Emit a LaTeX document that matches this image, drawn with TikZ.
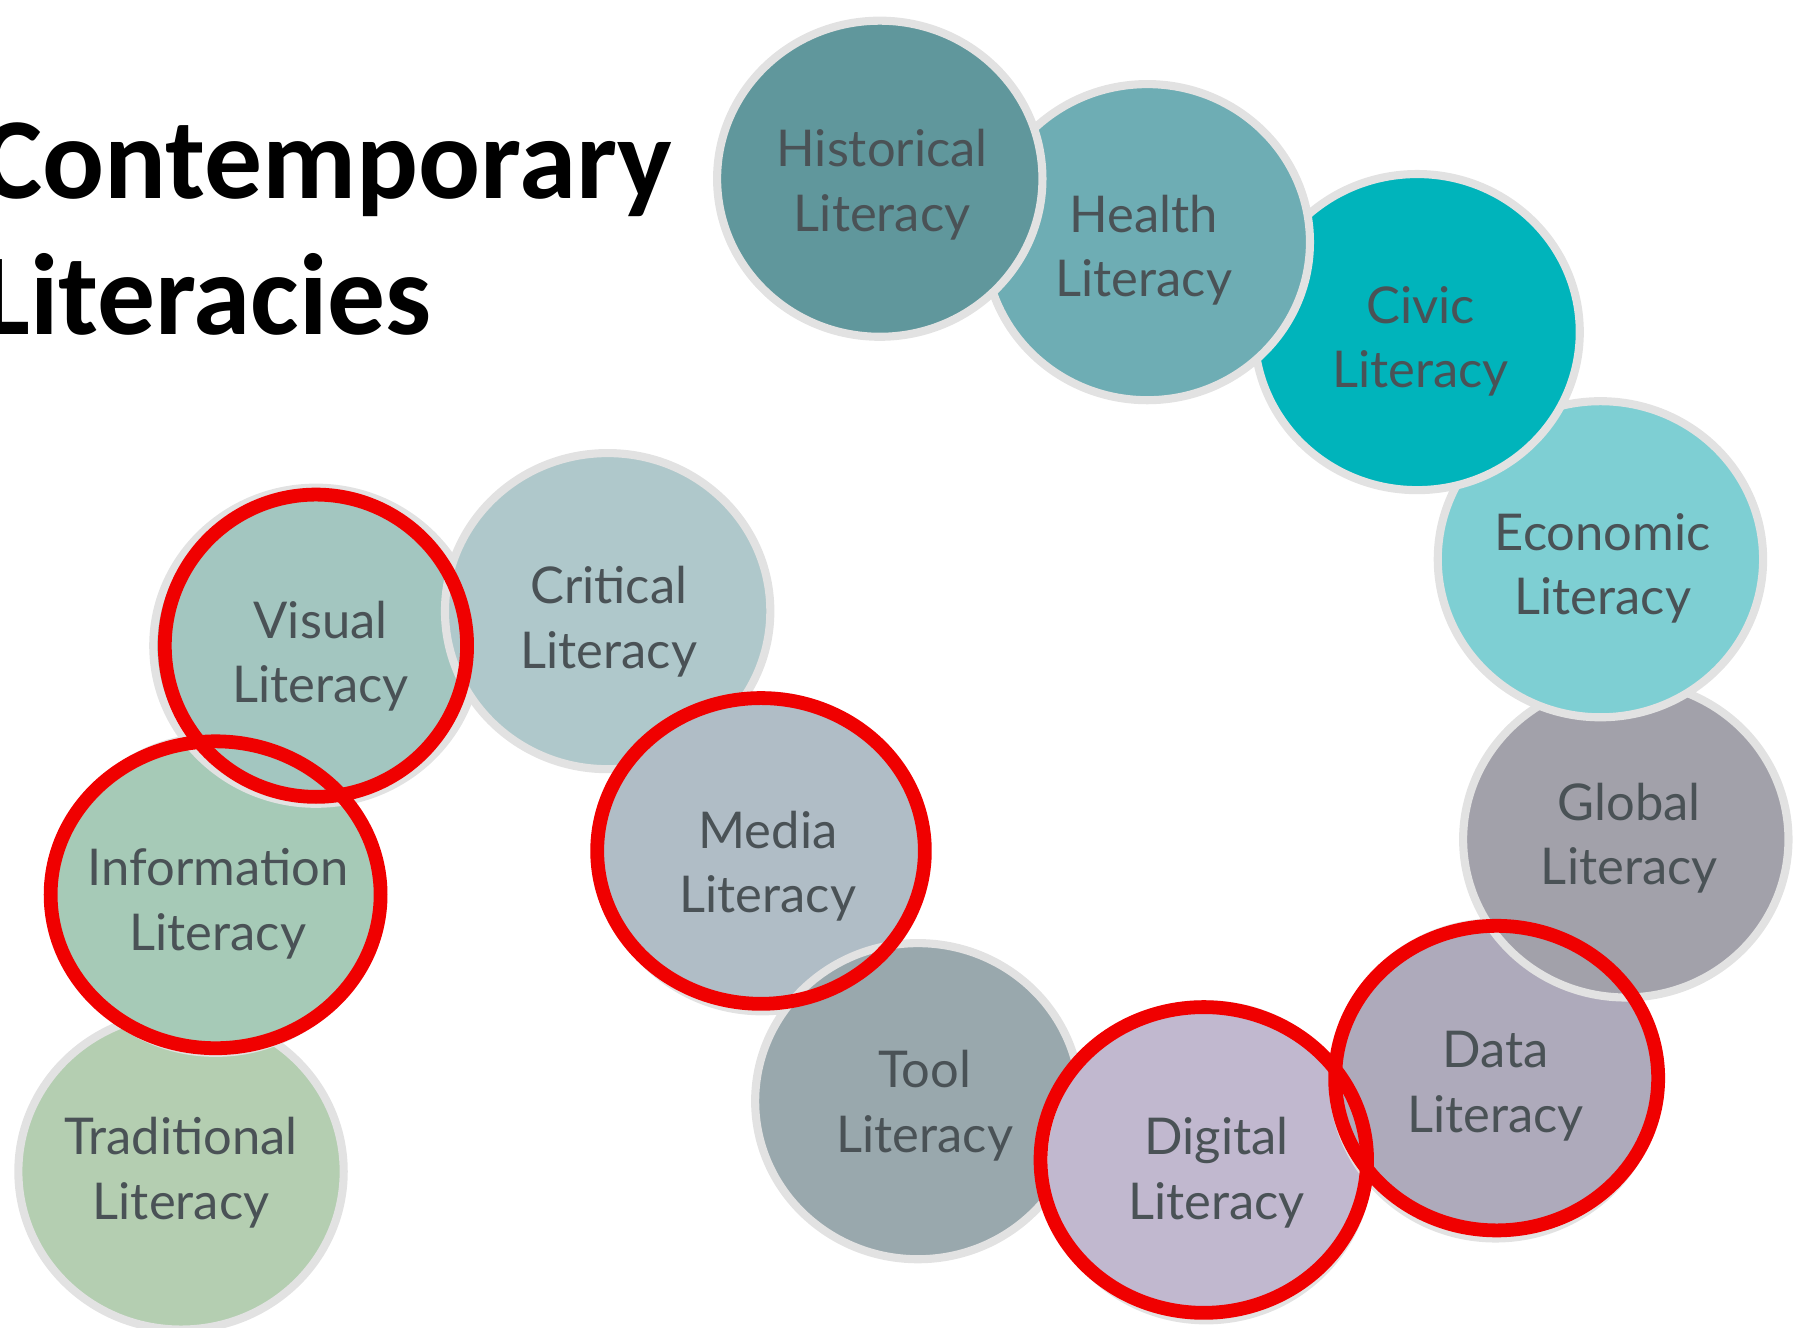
\documentclass[tikz,border=0pt]{standalone}
\usepackage{fontspec}
\setmainfont{Lato}
\newfontfamily\titlefont{Carlito}
\usetikzlibrary{shapes.geometric}
\definecolor{bordergray}{HTML}{E2E2E2}
\definecolor{txtgray}{HTML}{4A5256}
\definecolor{cHist}{HTML}{60979C}
\definecolor{cHealth}{HTML}{6EADB4}
\definecolor{cCivic}{HTML}{00B4BB}
\definecolor{cEcon}{HTML}{7ECFD3}
\definecolor{cGlobal}{HTML}{A2A1AA}
\definecolor{cData}{HTML}{AEAABB}
\definecolor{cDigital}{HTML}{C1B8CF}
\definecolor{cTool}{HTML}{99A8AD}
\definecolor{cMedia}{HTML}{B0BDC6}
\definecolor{cCrit}{HTML}{AFC8CB}
\definecolor{cVisual}{HTML}{A3C6C0}
\definecolor{cInfo}{HTML}{A6CAB7}
\definecolor{cTrad}{HTML}{B4CEB1}
\definecolor{ringred}{HTML}{F00000}
\tikzset{
  litcircle/.style={ellipse, draw=bordergray, line width=2pt, inner sep=0pt,
    minimum width=2.82cm, minimum height=2.74cm},
  littext/.style={align=center, text=txtgray, inner sep=0pt,
    font=\fontsize{12.5}{15.9}\selectfont},
  redring/.style={ellipse, draw=ringred, line width=3.4pt, inner sep=0pt},
  titletext/.style={anchor=base west, inner sep=0pt,
    font=\titlefont\bfseries\fontsize{28.5}{33}\selectfont}
}
\begin{document}
\begin{tikzpicture}[x=0.01cm, y=-0.01cm]
\useasboundingbox (0,0) rectangle (1568,1151);
% title
\node[titletext] (title1) at (-17,172) {Contemporary};
\node[titletext] (title2) at (-17,290) {Literacies};
% circles, drawn from last to first so earlier ones lie on top
\node[litcircle, fill=cTrad]    (trad)    at (157,1016) {};
\node[litcircle, fill=cInfo]    (info)    at (187,776) {};
\node[litcircle, fill=cVisual]  (visual)  at (274,560) {};
\node[litcircle, fill=cCrit]    (crit)    at (527,530) {};
\node[litcircle, fill=cMedia]   (media)   at (661,740) {};
\node[litcircle, fill=cTool]    (tool)    at (796,955) {};
\node[litcircle, fill=cDigital] (digital) at (1046,1008) {};
\node[litcircle, fill=cData]    (data)    at (1297,937) {};
\node[litcircle, fill=cGlobal]  (global)  at (1410,728) {};
\node[litcircle, fill=cEcon]    (econ)    at (1388,485) {};
\node[litcircle, fill=cCivic]   (civic)   at (1229,288) {};
\node[litcircle, fill=cHealth]  (health)  at (995,210) {};
\node[litcircle, fill=cHist]    (hist)    at (763,155) {};
% labels
\node[littext] (tHist)    at (765,160)  {Historical\\Literacy};
\node[littext] (tHealth)  at (992,217)  {Health\\Literacy};
\node[littext] (tCivic)   at (1232,296) {Civic\\Literacy};
\node[littext] (tEcon)    at (1390,493) {Economic\\Literacy};
\node[littext] (tGlobal)  at (1413,727) {Global\\Literacy};
\node[littext] (tData)    at (1297,942) {Data\\Literacy};
\node[littext] (tDigital) at (1055,1017){Digital\\Literacy};
\node[littext] (tTool)    at (802,959)  {Tool\\Literacy};
\node[littext] (tMedia)   at (666,751)  {Media\\Literacy};
\node[littext] (tCrit)    at (528,539)  {Critical\\Literacy};
\node[littext] (tVisual)  at (278,569)  {Visual\\Literacy};
\node[littext] (tInfo)    at (189,784)  {Information\\Literacy};
\node[littext] (tTrad)    at (157,1017) {Traditional\\Literacy};
% red highlight rings
\node[redring, minimum width=2.62cm, minimum height=2.62cm] (rVisual)  at (274,560) {};
\node[redring, minimum width=2.86cm, minimum height=2.66cm] (rInfo)    at (187,776) {};
\node[redring, minimum width=2.84cm, minimum height=2.65cm] (rMedia)   at (660,738) {};
\node[redring, minimum width=2.83cm, minimum height=2.65cm] (rDigital) at (1044,1006) {};
\node[redring, minimum width=2.80cm, minimum height=2.64cm] (rData)    at (1298,935) {};
\end{tikzpicture}
\end{document}
